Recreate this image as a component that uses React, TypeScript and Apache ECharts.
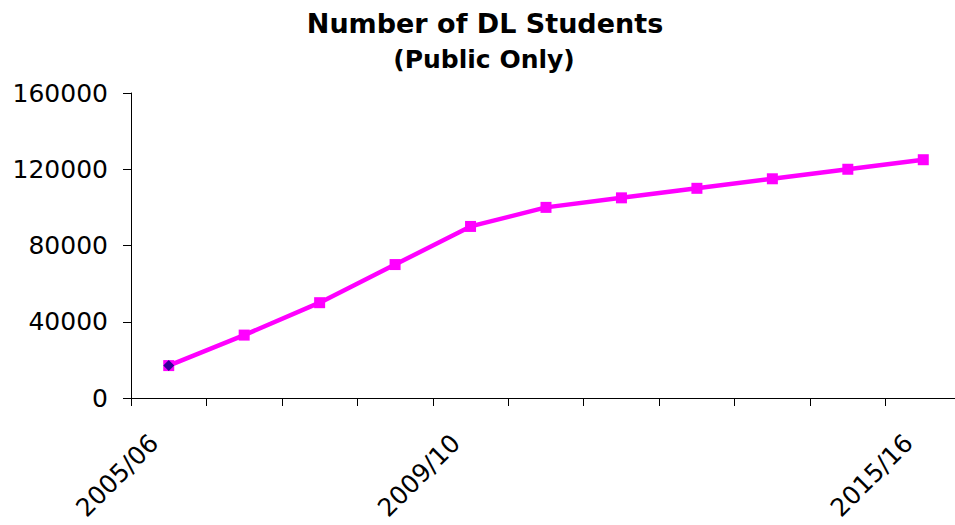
import React, { useEffect, useRef } from "react";
import * as echarts from "echarts";

const categories = [
  "2005/06", "2006/07", "2007/08", "2008/09", "2009/10", "2010/11",
  "2011/12", "2012/13", "2013/14", "2014/15", "2015/16",
];
const students = [17000, 33000, 50000, 70000, 90000, 100000, 105000, 110000, 115000, 120000, 125000];
const labelledIndices = [0, 4, 10];
const yTicks = { min: 0, max: 160000, interval: 40000 };
const titleText = "Number of DL Students";
const subtitleText = "(Public Only)";

const FONT = "'DejaVu Sans', sans-serif";

export default function App() {
  const ref = useRef<HTMLDivElement>(null);
  useEffect(() => {
    if (!ref.current) return;
    const chart = echarts.init(ref.current, null, { renderer: "svg" });
    chart.setOption({
      animation: false,
      backgroundColor: "#ffffff",
      graphic: [
        {
          type: "text",
          x: 485,
          y: 23.5,
          style: {
            text: titleText,
            font: `bold 27px ${FONT}`,
            fill: "#000",
            align: "center",
            verticalAlign: "middle",
          },
        },
        {
          type: "text",
          x: 484,
          y: 59.5,
          style: {
            text: subtitleText,
            font: `bold 25px ${FONT}`,
            fill: "#000",
            align: "center",
            verticalAlign: "middle",
          },
        },
      ],
      grid: {
        left: 131,
        top: 93,
        width: 830,
        height: 305,
        containLabel: false,
        outerBoundsMode: "none",
      },
      xAxis: {
        type: "category",
        data: categories,
        boundaryGap: true,
        axisLine: { show: true, lineStyle: { color: "#000", width: 1 } },
        axisTick: { show: true, interval: 0, length: 8, inside: false, lineStyle: { color: "#000" } },
        splitLine: { show: false },
        axisLabel: {
          interval: (i: number) => labelledIndices.indexOf(i) >= 0,
          rotate: 45,
          margin: 26,
          padding: [0, 21, 0, 0],
          fontFamily: FONT,
          fontSize: 25,
          color: "#000",
        },
      },
      yAxis: {
        type: "value",
        min: yTicks.min,
        max: yTicks.max,
        interval: yTicks.interval,
        axisLine: { show: true, lineStyle: { color: "#000", width: 1 } },
        axisTick: { show: true, length: 8, inside: false, lineStyle: { color: "#000" } },
        splitLine: { show: false },
        axisLabel: {
          margin: 23,
          fontFamily: FONT,
          fontSize: 25,
          color: "#000",
          formatter: (v: number) => String(v),
        },
      },
      series: [
        {
          type: "line",
          data: students,
          symbol: "rect",
          symbolSize: 11,
          showAllSymbol: true,
          lineStyle: { color: "#FF00FF", width: 4.5 },
          itemStyle: { color: "#FF00FF" },
          z: 2,
        },
        {
          type: "scatter",
          data: students.slice(0, 1),
          symbol: "diamond",
          symbolSize: 11,
          itemStyle: { color: "#000080" },
          z: 3,
        },
      ],
    });
    return () => chart.dispose();
  }, []);
  return (
    <div
      ref={ref}
      style={{ position: "absolute", left: 0, top: 0, width: 955, height: 525 }}
    />
  );
}
